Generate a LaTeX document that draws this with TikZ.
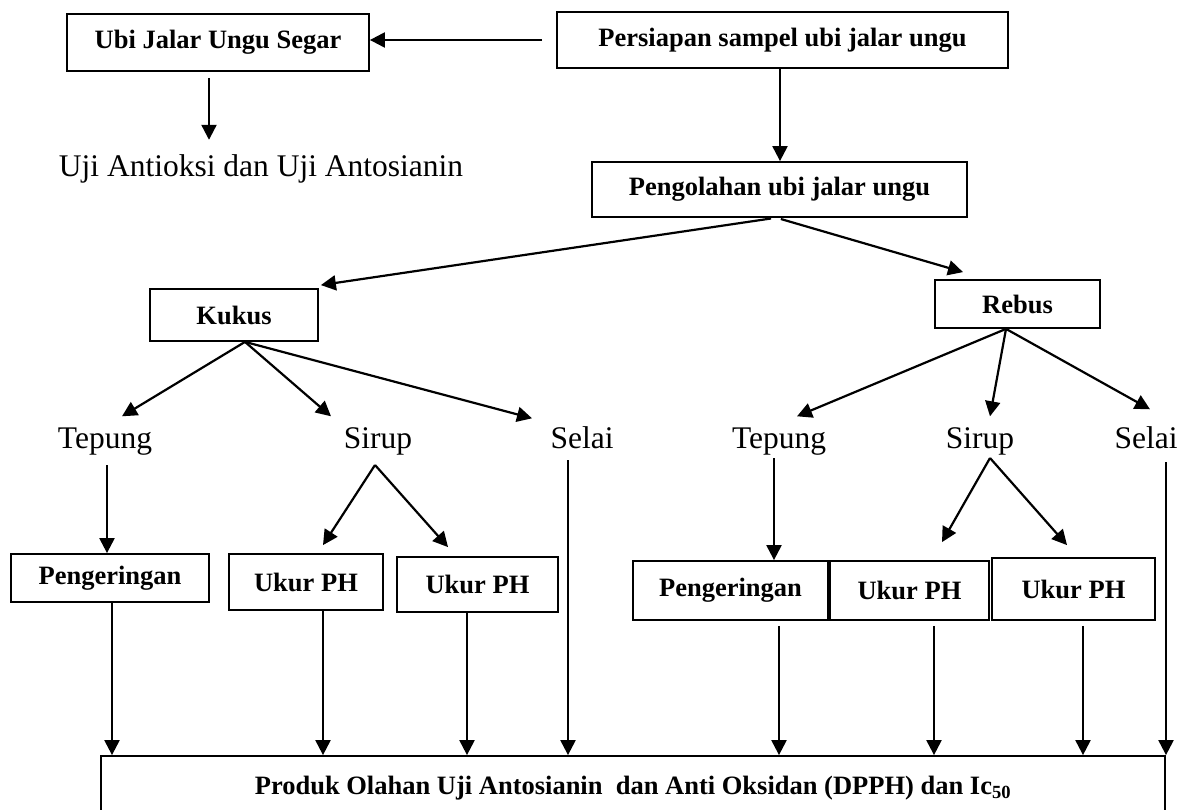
\documentclass[tikz,border=0pt]{standalone}
\usepackage{fontspec}
\setmainfont{Liberation Serif}
\usetikzlibrary{arrows.meta}
\begin{document}
\begin{tikzpicture}[x=1pt,y=-1pt,
  box/.style={draw, line width=1.8pt, inner sep=0pt, font=\bfseries\fontsize{26.5}{30}\selectfont},
  lbl/.style={inner xsep=2pt, inner ysep=10pt, text height=21.5pt, text depth=6.8pt, anchor=base, font=\fontsize{31.5}{36}\selectfont},
  arr/.style={line width=2.2pt, -{Triangle[length=15pt,width=15pt]}}]
\fill[white] (0,0) rectangle (1190,810);
\useasboundingbox (0,0) rectangle (1190,810);
% boxes and labels
\node[box, minimum width=302pt, minimum height=57pt] (ubi) at (218,42.5) {Ubi Jalar Ungu Segar};
\node[box, minimum width=451pt, minimum height=56pt] (persiapan) at (782.5,40) {Persiapan sampel ubi jalar ungu};
\node[box, minimum width=375pt, minimum height=55pt] (pengolahan) at (779.5,189.5) {Pengolahan ubi jalar ungu};
\node[lbl, inner ysep=15.5pt] (uji) at (261,177) {Uji Antioksi dan Uji Antosianin};
\node[box, minimum width=168pt, minimum height=52pt] (kukus) at (234,315) {Kukus};
\node[box, minimum width=165pt, minimum height=48pt] (rebus) at (1017.5,304) {Rebus};
\node[lbl] (tepungL) at (105,448) {Tepung};
\node[lbl] (sirupL) at (378,448) {Sirup};
\node[lbl] (selaiL) at (582,448) {Selai};
\node[lbl] (tepungR) at (779,448) {Tepung};
\node[lbl] (sirupR) at (980,448) {Sirup};
\node[lbl] (selaiR) at (1146,448) {Selai};
\node[box, minimum width=198pt, minimum height=48pt] (pengL) at (110,578) {Pengeringan};
\node[box, minimum width=154pt, minimum height=56pt] (ukur1) at (306,582) {Ukur PH};
\node[box, minimum width=161pt, minimum height=55pt] (ukur2) at (477.5,584.5) {Ukur PH};
\node[box, minimum width=195pt, minimum height=59pt] (pengR) at (730.5,590.5) {Pengeringan};
\node[box, minimum width=159pt, minimum height=59pt] (ukur3) at (909.5,590.5) {Ukur PH};
\node[box, minimum width=163pt, minimum height=62pt] (ukur4) at (1073.5,589) {Ukur PH};
\node[box, minimum width=1064pt, minimum height=64pt] (prod) at (633,788) {Produk Olahan Uji Antosianin\ \ dan Anti Oksidan (DPPH) dan Ic\textsubscript{50}};
% connectors
\draw[arr, shorten <=14pt] (persiapan.west) -- (persiapan.west -| ubi.east);
\draw[arr, shorten <=6pt] ([xshift=-9pt]ubi.south) -- ([xshift=-9pt]ubi.south |- uji.north);
\draw[arr] ([xshift=-2.5pt]persiapan.south) -- ([xshift=-2.5pt]persiapan.south |- pengolahan.north);
\draw[arr, shorten <=4pt] ([xshift=-4.5pt]pengolahan.south) -- ([xshift=2pt,yshift=3pt]kukus.north east);
\draw[arr, shorten <=4pt] ([xshift=-2.5pt]pengolahan.south) -- ([xshift=-54.5pt,yshift=7pt]rebus.north);
\draw[arr] ([xshift=11pt]kukus.south) -- ([xshift=17pt]tepungL.north);
\draw[arr] ([xshift=11pt]kukus.south) -- ([xshift=-47pt]sirupL.north);
\draw[arr] ([xshift=11pt]kukus.south) -- ([xshift=-50pt,yshift=-2pt]selaiL.north);
\draw[arr] ([xshift=-11.5pt]rebus.south) -- ([xshift=18pt]tepungR.north);
\draw[arr] ([xshift=-11.5pt]rebus.south) -- ([xshift=10pt]sirupR.north);
\draw[arr] ([xshift=-11.5pt]rebus.south) -- ([xshift=4pt,yshift=7pt]selaiR.north);
\draw[arr] ([xshift=2pt]tepungL.south) -- ([xshift=2pt]tepungL.south |- pengL.north);
\draw[arr] ([xshift=-3pt]sirupL.south) -- ([xshift=17pt,yshift=8pt]ukur1.north);
\draw[arr] ([xshift=-3pt]sirupL.south) -- ([xshift=-29.5pt,yshift=9pt]ukur2.north);
\draw[arr] ([xshift=-14pt,yshift=5pt]selaiL.south) -- ([xshift=-14pt]selaiL.south |- prod.north);
\draw[arr] ([xshift=-5pt,yshift=7pt]tepungR.south) -- ([xshift=-5pt]tepungR.south |- pengR.north);
\draw[arr] ([xshift=10pt,yshift=7pt]sirupR.south) -- ([xshift=32.5pt,yshift=18pt]ukur3.north);
\draw[arr] ([xshift=10pt,yshift=7pt]sirupR.south) -- ([xshift=-6.5pt,yshift=12pt]ukur4.north);
\draw[arr] ([xshift=20pt,yshift=3pt]selaiR.south) -- ([xshift=20pt]selaiR.south |- prod.north);
\draw[arr] ([xshift=2pt]pengL.south) -- ([xshift=2pt]pengL.south |- prod.north);
\draw[arr] ([xshift=17pt]ukur1.south) -- ([xshift=17pt]ukur1.south |- prod.north);
\draw[arr] ([xshift=-10.5pt]ukur2.south) -- ([xshift=-10.5pt]ukur2.south |- prod.north);
\draw[arr, shorten <=5pt] ([xshift=48.5pt]pengR.south) -- ([xshift=48.5pt]pengR.south |- prod.north);
\draw[arr, shorten <=5pt] ([xshift=24.5pt]ukur3.south) -- ([xshift=24.5pt]ukur3.south |- prod.north);
\draw[arr, shorten <=5pt] ([xshift=9.5pt]ukur4.south) -- ([xshift=9.5pt]ukur4.south |- prod.north);
\end{tikzpicture}
\end{document}
